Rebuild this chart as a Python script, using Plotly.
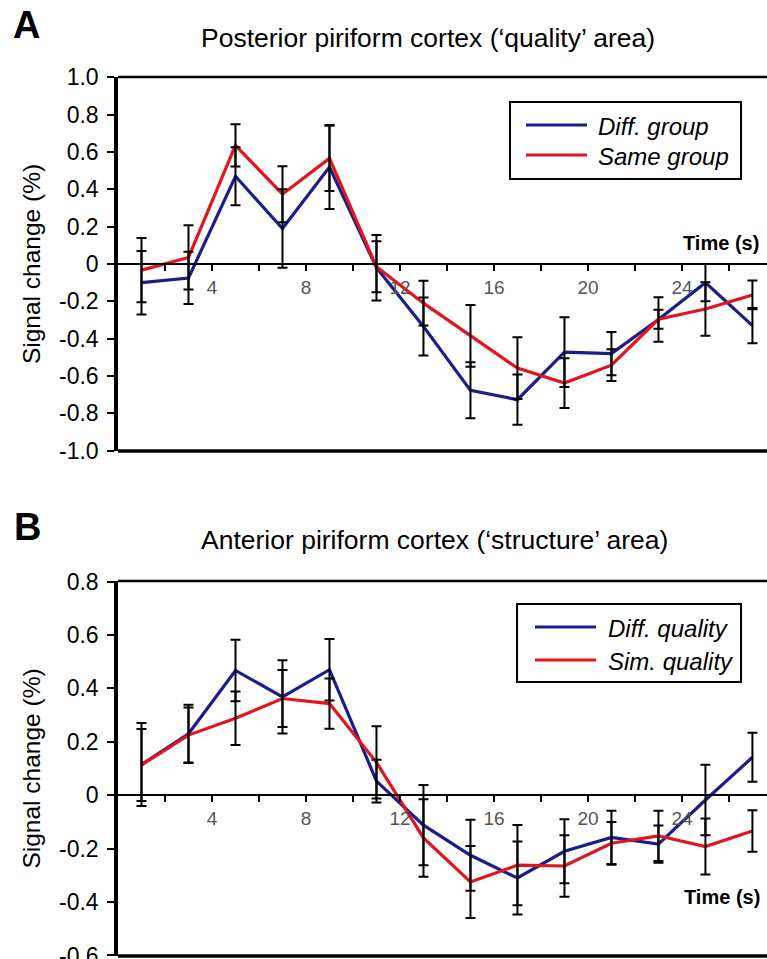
import plotly.graph_objects as go

# ---------------- data ----------------
time_s = [1, 3, 5, 7, 9, 11, 13, 15, 17, 19, 21, 23, 25, 27]

# Panel A: posterior piriform cortex
a_diff = [-0.10, -0.075, 0.47, 0.19, 0.52, -0.02, -0.335, -0.677, -0.727, -0.472, -0.480, -0.297, -0.10, -0.33]
a_diff_err = [0.17, 0.14, 0.155, 0.21, 0.225, 0.175, 0.155, 0.15, 0.135, 0.187, 0.116, 0.119, 0.10, 0.094]
a_same = [-0.033, 0.035, 0.636, 0.374, 0.566, -0.015, -0.21, -0.385, -0.558, -0.638, -0.542, -0.296, -0.241, -0.166]
a_same_err = [0.172, 0.172, 0.113, 0.15, 0.175, 0.137, 0.12, 0.165, 0.166, 0.133, 0.085, 0.051, 0.143, 0.077]

# Panel B: anterior piriform cortex
b_diff = [0.115, 0.23, 0.467, 0.368, 0.47, 0.053, -0.112, -0.225, -0.31, -0.21, -0.158, -0.183, -0.018, 0.142]
b_diff_err = [0.155, 0.109, 0.115, 0.137, 0.115, 0.08, 0.15, 0.133, 0.137, 0.12, 0.10, 0.07, 0.132, 0.092]
b_sim = [0.113, 0.225, 0.288, 0.362, 0.343, 0.123, -0.16, -0.325, -0.262, -0.265, -0.18, -0.152, -0.192, -0.134]
b_sim_err = [0.135, 0.103, 0.10, 0.107, 0.094, 0.135, 0.145, 0.135, 0.15, 0.115, 0.08, 0.094, 0.105, 0.078]

a_names = ["Diff. group", "Same group"]
b_names = ["Diff. quality", "Sim. quality"]

x_tickvals = [2, 4, 6, 8, 10, 12, 14, 16, 18, 20, 22, 24, 26]
x_ticktext = ["", "4", "", "8", "", "12", "", "16", "", "20", "", "24", ""]

a_yticks = [-1.0, -0.8, -0.6, -0.4, -0.2, 0, 0.2, 0.4, 0.6, 0.8, 1.0]
a_yticktext = ["-1.0", "-0.8", "-0.6", "-0.4", "-0.2", "0", "0.2", "0.4", "0.6", "0.8", "1.0"]
b_yticks = [-0.6, -0.4, -0.2, 0, 0.2, 0.4, 0.6, 0.8]
b_yticktext = ["-0.6", "-0.4", "-0.2", "0", "0.2", "0.4", "0.6", "0.8"]

# ---------------- layout constants ----------------
W, H = 767, 959
FONT = "Liberation Sans, Arial, Helvetica, sans-serif"
BLUE = "#1c1c8e"
RED = "#e3141e"
COLORS = [BLUE, RED]


def px_x(p):
    return p / W


def px_y(p):
    return 1 - p / H


a_range = [-1.0, 1.0]
b_range = [-0.6, 0.8]
a_dom = [px_y(451), px_y(77)]
b_dom = [px_y(956), px_y(581)]
x_dom = [px_x(118), 1.0]
x_range = [0, 27.62]


def zero_pos(dom, rng):
    return dom[0] + (0 - rng[0]) / (rng[1] - rng[0]) * (dom[1] - dom[0])


fig = go.Figure()


def add_panel(xa, ya, y1, e1, y2, e2, names):
    for yy, col, nm in ((y1, BLUE, names[0]), (y2, RED, names[1])):
        fig.add_trace(go.Scatter(x=time_s, y=yy, mode="lines", name=nm,
                                 line=dict(color=col, width=3.2),
                                 showlegend=False, xaxis=xa, yaxis=ya))
    for yy, ee in ((y1, e1), (y2, e2)):
        fig.add_trace(go.Scatter(x=time_s, y=yy, mode="markers",
                                 marker=dict(color="rgba(0,0,0,0)", size=2),
                                 error_y=dict(type="data", array=ee, visible=True,
                                              color="black", thickness=2, width=5),
                                 showlegend=False, hoverinfo="skip",
                                 xaxis=xa, yaxis=ya))


add_panel("x", "y", a_diff, a_diff_err, a_same, a_same_err, a_names)
add_panel("x2", "y2", b_diff, b_diff_err, b_sim, b_sim_err, b_names)


def xaxis_cfg(dom, rng):
    return dict(domain=x_dom, range=x_range, anchor="free",
                position=zero_pos(dom, rng),
                showline=True, linecolor="black", linewidth=2,
                ticks="outside", ticklen=6, tickwidth=1.5, tickcolor="black",
                tickvals=x_tickvals, ticktext=x_ticktext,
                tickfont=dict(family=FONT, size=19, color="#555555"),
                showgrid=False, zeroline=False, automargin=False,
                fixedrange=True)


def yaxis_cfg(dom, rng, tv, tt, xa):
    return dict(domain=dom, range=[rng[0] - 0.002, rng[1] + 0.002], anchor=xa,
                showline=True, linecolor="black", linewidth=3.5,
                ticks="outside", ticklen=7, tickwidth=2, tickcolor="black",
                tickvals=tv, ticktext=tt,
                tickfont=dict(family=FONT, size=23, color="black"),
                ticklabelstandoff=4, ticklabeloverflow="allow",
                title=dict(text="Signal change (%)", standoff=12,
                           font=dict(family=FONT, size=24.5, color="black")),
                showgrid=False, zeroline=False, automargin=False,
                fixedrange=True)


def ann(text, x, y, size, **kw):
    return dict(text=text, x=px_x(x), y=px_y(y), xref="paper", yref="paper",
                xanchor=kw.pop("xanchor", "center"), yanchor="middle",
                showarrow=False,
                font=dict(family=FONT, size=size, color="black", **kw))


annotations = [
    ann("<b>A</b>", 26, 25, 38),
    ann("<b>B</b>", 27, 527, 38),
    ann("Posterior piriform cortex (\u2018quality\u2019 area)", 428, 38, 26.5),
    ann("Anterior piriform cortex (\u2018structure\u2019 area)", 434, 540, 26.5),
    ann("<b>Time (s)</b>", 721, 243, 20),
    ann("<b>Time (s)</b>", 722, 897, 20),
]

shapes = []
for xr, yr in (("x domain", "y domain"), ("x2 domain", "y2 domain")):
    shapes.append(dict(type="line", xref=xr, yref=yr, x0=0, x1=1, y0=1, y1=1,
                       line=dict(color="black", width=2.5)))
    shapes.append(dict(type="line", xref=xr, yref=yr, x0=0, x1=1, y0=0, y1=0,
                       line=dict(color="black", width=3.5)))


# legends (box, line samples, italic labels)
def add_legend(box, line_x, text_x, rows, names):
    shapes.append(dict(type="rect", xref="paper", yref="paper",
                       x0=px_x(box[0]), x1=px_x(box[1]),
                       y0=px_y(box[3]), y1=px_y(box[2]),
                       line=dict(color="black", width=2), fillcolor="white",
                       layer="above"))
    for ry, nm, col in zip(rows, names, COLORS):
        shapes.append(dict(type="line", xref="paper", yref="paper",
                           x0=px_x(line_x[0]), x1=px_x(line_x[1]),
                           y0=px_y(ry), y1=px_y(ry),
                           line=dict(color=col, width=3.2), layer="above"))
        annotations.append(ann(nm, text_x, ry + 1, 24, xanchor="left",
                               style="italic"))


add_legend((510, 741, 102, 179), (526, 587), 596, (125, 155), a_names)
add_legend((517, 741, 604, 682), (535, 596), 606, (627, 660), b_names)

fig.update_layout(
    template="none",
    width=W, height=H,
    margin=dict(l=0, r=0, t=0, b=0),
    paper_bgcolor="white", plot_bgcolor="white",
    font=dict(family=FONT, color="black"),
    xaxis=xaxis_cfg(a_dom, a_range),
    yaxis=yaxis_cfg(a_dom, a_range, a_yticks, a_yticktext, "x"),
    xaxis2=xaxis_cfg(b_dom, b_range),
    yaxis2=yaxis_cfg(b_dom, b_range, b_yticks, b_yticktext, "x2"),
    annotations=annotations,
    shapes=shapes,
    showlegend=False,
)

fig.write_html("out.html")
